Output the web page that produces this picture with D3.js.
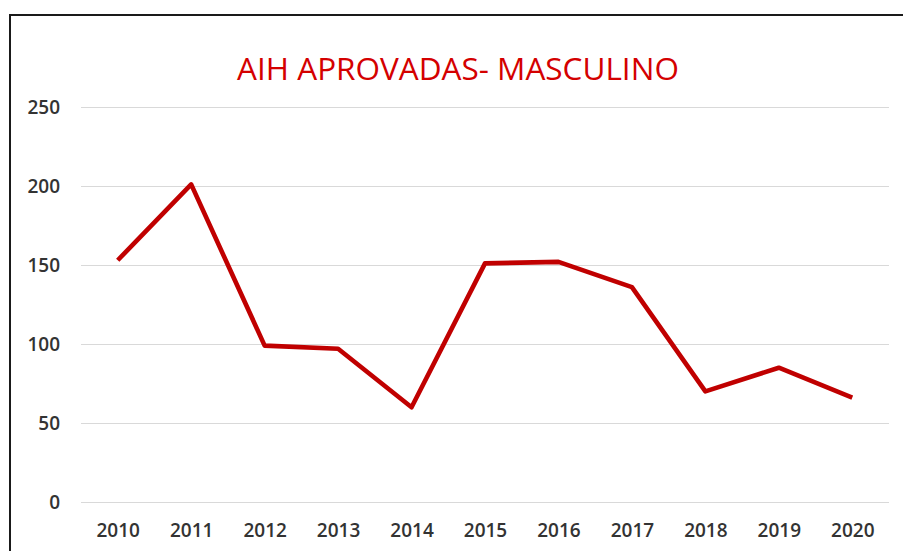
<!DOCTYPE html>
<meta charset="utf-8">
<style>
body {
  margin: 0;
  background: #fff;
}
.axis text {
  font-family: "Open Sans", sans-serif;
  font-size: 19px;
  font-weight: 600;
  fill: #333;
}
.axis--y line {
  stroke: #d9d9d9;
  stroke-width: 1.2px;
}
.axis path {
  display: none;
}
.line {
  fill: none;
  stroke: #c00000;
  stroke-width: 4.6px;
  stroke-linejoin: round;
}
</style>
<body>
<svg width="903" height="551"></svg>
<script src="https://cdn.jsdelivr.net/npm/d3@7/dist/d3.min.js"></script>
<script>

var years = ["2010", "2011", "2012", "2013", "2014", "2015", "2016", "2017", "2018", "2019", "2020"];
var aihMasculino = [153, 201, 99, 97, 60, 151, 152, 136, 70, 85, 66];
var yTicks = [0, 50, 100, 150, 200, 250];
var title = "AIH APROVADAS- MASCULINO";

var svg = d3.select("svg"),
    margin = {top: 107, right: 14, bottom: 49, left: 81},
    width = svg.attr("width") - margin.left - margin.right,
    height = svg.attr("height") - margin.top - margin.bottom;

// chart frame (runs past the right and bottom edges of the picture)
svg.append("rect")
    .attr("x", 10)
    .attr("y", 15)
    .attr("width", 1000)
    .attr("height", 1000)
    .attr("fill", "none")
    .attr("stroke", "#1a1a1a")
    .attr("stroke-width", 2);

svg.append("text")
    .attr("x", 458)
    .attr("y", 80)
    .attr("text-anchor", "middle")
    .style("font-family", "'Open Sans', sans-serif")
    .style("font-size", "31.5px")
    .attr("fill", "#d40000")
    .text(title);

var g = svg.append("g").attr("transform", "translate(" + margin.left + "," + margin.top + ")");

var x = d3.scalePoint().domain(years).range([0, width]).padding(0.5),
    y = d3.scaleLinear().domain([0, 250]).range([height, 0]);

g.append("g")
    .attr("class", "axis axis--y")
    .call(d3.axisLeft(y).tickValues(yTicks).tickSize(-width).tickPadding(21));

g.append("g")
    .attr("class", "axis axis--x")
    .attr("transform", "translate(0," + height + ")")
    .call(d3.axisBottom(x).tickSize(0).tickPadding(22));

var line = d3.line()
    .x(function(d, i) { return x(years[i]); })
    .y(function(d) { return y(d); });

g.append("path")
    .datum(aihMasculino)
    .attr("class", "line")
    .attr("d", line);

</script>
</body>
